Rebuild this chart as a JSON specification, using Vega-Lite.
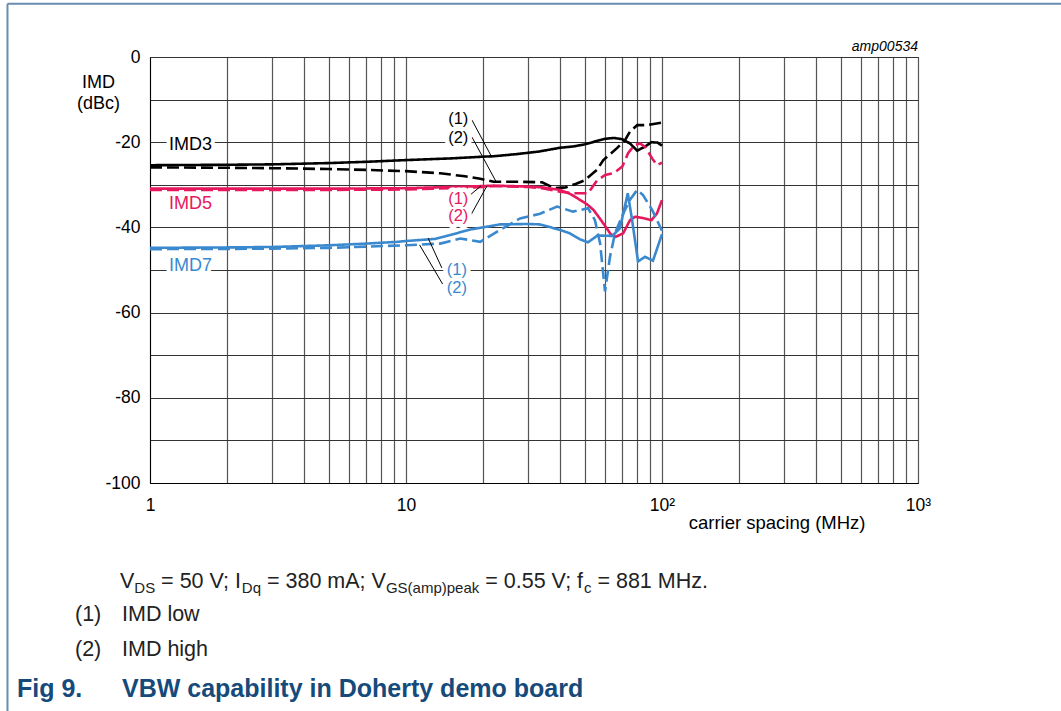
{
  "$schema": "https://vega.github.io/schema/vega-lite/v6.json",
  "width": 768,
  "height": 426,
  "autosize": {"type": "none"},
  "padding": {"left": 150, "top": 57, "right": 143, "bottom": 228},
  "background": "white",
  "config": {
    "view": {"stroke": "#333", "strokeWidth": 1},
    "font": "Liberation Sans",
    "text": {"font": "Liberation Sans"}
  },
  "datasets": {
    "curves": [
      {"s":"IMD3","k":"low","x":1,"y":-25.4},{"s":"IMD3","k":"low","x":2,"y":-25.3},{"s":"IMD3","k":"low","x":3,"y":-25.2},{"s":"IMD3","k":"low","x":5,"y":-24.9},{"s":"IMD3","k":"low","x":7,"y":-24.6},{"s":"IMD3","k":"low","x":10,"y":-24.2},{"s":"IMD3","k":"low","x":15,"y":-23.8},{"s":"IMD3","k":"low","x":20,"y":-23.4},{"s":"IMD3","k":"low","x":22,"y":-23.3},{"s":"IMD3","k":"low","x":27,"y":-22.8},{"s":"IMD3","k":"low","x":33,"y":-22.2},{"s":"IMD3","k":"low","x":40,"y":-21.3},{"s":"IMD3","k":"low","x":45,"y":-21.0},{"s":"IMD3","k":"low","x":50,"y":-20.5},{"s":"IMD3","k":"low","x":55,"y":-19.8},{"s":"IMD3","k":"low","x":60,"y":-19.2},{"s":"IMD3","k":"low","x":65,"y":-19.0},{"s":"IMD3","k":"low","x":70,"y":-19.3},{"s":"IMD3","k":"low","x":75,"y":-20.3},{"s":"IMD3","k":"low","x":80,"y":-22.0},{"s":"IMD3","k":"low","x":86,"y":-21.0},{"s":"IMD3","k":"low","x":91,"y":-20.0},{"s":"IMD3","k":"low","x":96,"y":-20.1},{"s":"IMD3","k":"low","x":100,"y":-20.8},
      {"s":"IMD3","k":"high","x":1,"y":-25.9},{"s":"IMD3","k":"high","x":2,"y":-26.0},{"s":"IMD3","k":"high","x":3,"y":-26.1},{"s":"IMD3","k":"high","x":5,"y":-26.3},{"s":"IMD3","k":"high","x":7,"y":-26.5},{"s":"IMD3","k":"high","x":10,"y":-26.8},{"s":"IMD3","k":"high","x":13.6,"y":-27.3},{"s":"IMD3","k":"high","x":17,"y":-28.0},{"s":"IMD3","k":"high","x":19.5,"y":-28.6},{"s":"IMD3","k":"high","x":22,"y":-29.3},{"s":"IMD3","k":"high","x":28,"y":-29.3},{"s":"IMD3","k":"high","x":34,"y":-29.4},{"s":"IMD3","k":"high","x":38,"y":-30.8},{"s":"IMD3","k":"high","x":42,"y":-30.6},{"s":"IMD3","k":"high","x":46,"y":-29.8},{"s":"IMD3","k":"high","x":50,"y":-28.9},{"s":"IMD3","k":"high","x":55.7,"y":-26.5},{"s":"IMD3","k":"high","x":59,"y":-24.2},{"s":"IMD3","k":"high","x":66.7,"y":-21.4},{"s":"IMD3","k":"high","x":71.6,"y":-19.6},{"s":"IMD3","k":"high","x":75,"y":-17.5},{"s":"IMD3","k":"high","x":80,"y":-16.0},{"s":"IMD3","k":"high","x":87,"y":-16.0},{"s":"IMD3","k":"high","x":100,"y":-15.4},
      {"s":"IMD5","k":"low","x":1,"y":-30.9},{"s":"IMD5","k":"low","x":5,"y":-30.9},{"s":"IMD5","k":"low","x":10,"y":-30.8},{"s":"IMD5","k":"low","x":15,"y":-30.5},{"s":"IMD5","k":"low","x":20,"y":-30.3},{"s":"IMD5","k":"low","x":22,"y":-30.2},{"s":"IMD5","k":"low","x":30,"y":-30.4},{"s":"IMD5","k":"low","x":34,"y":-30.6},{"s":"IMD5","k":"low","x":40,"y":-31.2},{"s":"IMD5","k":"low","x":44,"y":-32.2},{"s":"IMD5","k":"low","x":48,"y":-33.6},{"s":"IMD5","k":"low","x":51,"y":-34.6},{"s":"IMD5","k":"low","x":54,"y":-35.9},{"s":"IMD5","k":"low","x":57,"y":-37.8},{"s":"IMD5","k":"low","x":61,"y":-40.3},{"s":"IMD5","k":"low","x":63,"y":-41.6},{"s":"IMD5","k":"low","x":66,"y":-42.2},{"s":"IMD5","k":"low","x":70.5,"y":-41.4},{"s":"IMD5","k":"low","x":75,"y":-38.3},{"s":"IMD5","k":"low","x":78.5,"y":-37.5},{"s":"IMD5","k":"low","x":84,"y":-37.8},{"s":"IMD5","k":"low","x":91,"y":-38.3},{"s":"IMD5","k":"low","x":95.6,"y":-36.7},{"s":"IMD5","k":"low","x":100,"y":-33.6},
      {"s":"IMD5","k":"high","x":1,"y":-31.2},{"s":"IMD5","k":"high","x":5,"y":-31.2},{"s":"IMD5","k":"high","x":10,"y":-31.1},{"s":"IMD5","k":"high","x":15,"y":-30.8},{"s":"IMD5","k":"high","x":20,"y":-30.5},{"s":"IMD5","k":"high","x":22,"y":-30.3},{"s":"IMD5","k":"high","x":30,"y":-30.5},{"s":"IMD5","k":"high","x":34,"y":-30.8},{"s":"IMD5","k":"high","x":40,"y":-31.6},{"s":"IMD5","k":"high","x":45,"y":-32.0},{"s":"IMD5","k":"high","x":51.4,"y":-32.0},{"s":"IMD5","k":"high","x":55.7,"y":-29.0},{"s":"IMD5","k":"high","x":60,"y":-27.7},{"s":"IMD5","k":"high","x":65,"y":-27.2},{"s":"IMD5","k":"high","x":70,"y":-25.7},{"s":"IMD5","k":"high","x":73.7,"y":-22.6},{"s":"IMD5","k":"high","x":78,"y":-20.7},{"s":"IMD5","k":"high","x":82,"y":-20.3},{"s":"IMD5","k":"high","x":86,"y":-21.1},{"s":"IMD5","k":"high","x":91.5,"y":-23.8},{"s":"IMD5","k":"high","x":95.6,"y":-25.4},{"s":"IMD5","k":"high","x":100,"y":-24.8},
      {"s":"IMD7","k":"low","x":1,"y":-44.8},{"s":"IMD7","k":"low","x":2,"y":-44.7},{"s":"IMD7","k":"low","x":3,"y":-44.6},{"s":"IMD7","k":"low","x":5,"y":-44.2},{"s":"IMD7","k":"low","x":7,"y":-43.8},{"s":"IMD7","k":"low","x":9.2,"y":-43.4},{"s":"IMD7","k":"low","x":10,"y":-43.2},{"s":"IMD7","k":"low","x":13,"y":-42.7},{"s":"IMD7","k":"low","x":15.5,"y":-41.5},{"s":"IMD7","k":"low","x":17.8,"y":-40.5},{"s":"IMD7","k":"low","x":19.5,"y":-40.1},{"s":"IMD7","k":"low","x":23.3,"y":-39.3},{"s":"IMD7","k":"low","x":30,"y":-39.2},{"s":"IMD7","k":"low","x":33.4,"y":-39.3},{"s":"IMD7","k":"low","x":40,"y":-40.6},{"s":"IMD7","k":"low","x":43.7,"y":-41.4},{"s":"IMD7","k":"low","x":47.8,"y":-42.8},{"s":"IMD7","k":"low","x":51.4,"y":-43.5},{"s":"IMD7","k":"low","x":56,"y":-41.9},{"s":"IMD7","k":"low","x":64,"y":-42.0},{"s":"IMD7","k":"low","x":68.5,"y":-40.2},{"s":"IMD7","k":"low","x":73.5,"y":-32.0},{"s":"IMD7","k":"low","x":76.3,"y":-38.0},{"s":"IMD7","k":"low","x":80.6,"y":-48.0},{"s":"IMD7","k":"low","x":85.8,"y":-46.9},{"s":"IMD7","k":"low","x":92.2,"y":-47.8},{"s":"IMD7","k":"low","x":100,"y":-41.6},
      {"s":"IMD7","k":"high","x":1,"y":-45.1},{"s":"IMD7","k":"high","x":3,"y":-45.0},{"s":"IMD7","k":"high","x":5,"y":-44.8},{"s":"IMD7","k":"high","x":10,"y":-44.2},{"s":"IMD7","k":"high","x":13.6,"y":-43.8},{"s":"IMD7","k":"high","x":16.3,"y":-42.6},{"s":"IMD7","k":"high","x":19.5,"y":-43.4},{"s":"IMD7","k":"high","x":23.3,"y":-40.6},{"s":"IMD7","k":"high","x":27.9,"y":-37.9},{"s":"IMD7","k":"high","x":33.4,"y":-36.8},{"s":"IMD7","k":"high","x":38.9,"y":-35.1},{"s":"IMD7","k":"high","x":44.9,"y":-36.3},{"s":"IMD7","k":"high","x":51.4,"y":-35.5},{"s":"IMD7","k":"high","x":54.7,"y":-38.3},{"s":"IMD7","k":"high","x":57.3,"y":-43.7},{"s":"IMD7","k":"high","x":59.9,"y":-55.0},{"s":"IMD7","k":"high","x":62.6,"y":-47.0},{"s":"IMD7","k":"high","x":65.5,"y":-41.4},{"s":"IMD7","k":"high","x":70.5,"y":-36.8},{"s":"IMD7","k":"high","x":75,"y":-33.5},{"s":"IMD7","k":"high","x":80,"y":-31.2},{"s":"IMD7","k":"high","x":84.3,"y":-32.4},{"s":"IMD7","k":"high","x":91.5,"y":-35.9},{"s":"IMD7","k":"high","x":100,"y":-40.8}
    ],
    "names": [
      {"t":"IMD3","s":"IMD3","x":1.44,"y":-20.7},
      {"t":"IMD5","s":"IMD5","x":1.44,"y":-34.6},
      {"t":"IMD7","s":"IMD7","x":1.44,"y":-49.0}
    ],
    "refs": [
      {"t":"(1)","s":"IMD3","x":16.0,"y":-14.6},
      {"t":"(2)","s":"IMD3","x":16.0,"y":-18.9},
      {"t":"(1)","s":"IMD5","x":16.0,"y":-33.3},
      {"t":"(2)","s":"IMD5","x":16.0,"y":-37.3},
      {"t":"(1)","s":"IMD7","x":15.8,"y":-50.0},
      {"t":"(2)","s":"IMD7","x":15.8,"y":-54.2}
    ],
    "leaders": [
      {"x":18.1,"y":-14.8,"x2":21.5,"y2":-23.2},
      {"x":18.1,"y":-18.8,"x2":22.5,"y2":-29.3},
      {"x":17.8,"y":-32.4,"x2":19.6,"y2":-30.3},
      {"x":18.0,"y":-36.9,"x2":20.7,"y2":-30.3},
      {"x":13.8,"y":-49.5,"x2":12.2,"y2":-42.5},
      {"x":13.9,"y":-53.3,"x2":11.3,"y2":-44.1}
    ],
    "tag": [
      {"t":"amp00534","x":1000,"y":1.4}
    ],
    "caption": [
      {"role":"main","t":"V","x":0.7637,"y":-124.65},
      {"role":"sub","t":"DS","x":0.8683,"y":-125.82},
      {"role":"main","t":"= 50 V; I","x":1.105,"y":-124.65},
      {"role":"sub","t":"Dq","x":2.2838,"y":-125.82},
      {"role":"main","t":"= 380 mA; V","x":2.8642,"y":-124.65},
      {"role":"sub","t":"GS(amp)peak","x":8.3463,"y":-125.82},
      {"role":"main","t":"= 0.55 V; f","x":20.40,"y":-124.65},
      {"role":"sub","t":"c","x":49.54,"y":-125.82},
      {"role":"main","t":"= 881 MHz.","x":55.94,"y":-124.65},
      {"role":"main","t":"(1)","x":0.5093,"y":-132.3},
      {"role":"main","t":"IMD low","x":0.7774,"y":-132.3},
      {"role":"main","t":"(2)","x":0.5093,"y":-140.5},
      {"role":"main","t":"IMD high","x":0.7774,"y":-140.5},
      {"role":"fig","t":"Fig 9.","x":0.3022,"y":-150.2},
      {"role":"fig","t":"VBW capability in Doherty demo board","x":0.7774,"y":-150.2}
    ],
    "frame": [
      {"x":0.2775,"y":12.49,"x2":0.2775,"y2":-170},
      {"x":0.2775,"y":12.49,"x2":5000,"y2":12.49}
    ]
  },
  "layer": [
    {
      "data": {"name": "curves"},
      "mark": {"type": "line", "strokeWidth": 2.6, "clip": false},
      "encoding": {
        "x": {
          "field": "x", "type": "quantitative",
          "scale": {"type": "log", "domain": [1, 1000]},
          "axis": {
            "values": [1,2,3,4,5,6,7,8,9,10,20,30,40,50,60,70,80,90,100,200,300,400,500,600,700,800,900,1000],
            "grid": true, "gridColor": "#555", "gridWidth": 1.2, "ticks": false,
            "domainColor": "#000", "domainWidth": 1,
            "labelExpr": "datum.value == 1 ? '1' : datum.value == 10 ? '10' : datum.value == 100 ? '10²' : datum.value == 1000 ? '10³' : ''",
            "labelFontSize": 17.5, "labelPadding": 13, "labelColor": "#000",
            "labelFlush": false, "labelOverlap": false, "labelBound": false,
            "title": "carrier spacing (MHz)", "titleFontSize": 18.5, "titleFontWeight": "normal", "titleColor": "#000",
            "titleX": 715, "titleY": 39, "titleAlign": "right", "titleBaseline": "middle"
          }
        },
        "y": {
          "field": "y", "type": "quantitative",
          "scale": {"domain": [-100, 0]},
          "axis": {
            "values": [-100,-90,-80,-70,-60,-50,-40,-30,-20,-10,0],
            "grid": true, "gridColor": "#333", "gridWidth": 1, "ticks": false,
            "domainColor": "#000", "domainWidth": 1,
            "labelExpr": "datum.value % 20 == 0 ? '' + datum.value : ''",
            "labelFontSize": 17.5, "labelPadding": 10, "labelColor": "#000",
            "labelFlush": false, "labelOverlap": false, "labelBound": false,
            "title": ["IMD", "(dBc)"], "titleAngle": 0, "titleAlign": "center", "titleBaseline": "top",
            "titleX": -52, "titleY": 16, "titleFontSize": 18, "titleFontWeight": "normal", "titleColor": "#000", "titleLineHeight": 21
          }
        },
        "color": {"field": "s", "type": "nominal", "scale": {"domain": ["IMD3", "IMD5", "IMD7"], "range": ["#000000", "#e5195c", "#3a89cf"]}, "legend": null},
        "strokeDash": {"field": "k", "type": "nominal", "scale": {"domain": ["low", "high"], "range": [[1, 0], [12, 5]]}, "legend": null}
      }
    },
    {
      "data": {"name": "leaders"},
      "mark": {"type": "rule", "color": "#000", "strokeWidth": 1},
      "encoding": {
        "x": {"field": "x", "type": "quantitative", "scale": {"type": "log", "domain": [1, 1000]}},
        "y": {"field": "y", "type": "quantitative", "scale": {"domain": [-100, 0]}},
        "x2": {"field": "x2"},
        "y2": {"field": "y2"}
      }
    },
    {
      "data": {"name": "names"},
      "mark": {"type": "text", "fontSize": 18, "fill": "white", "stroke": "white", "strokeWidth": 8, "strokeJoin": "round", "align": "center", "baseline": "middle"},
      "encoding": {
        "x": {"field": "x", "type": "quantitative", "scale": {"type": "log", "domain": [1, 1000]}},
        "y": {"field": "y", "type": "quantitative", "scale": {"domain": [-100, 0]}},
        "text": {"field": "t"}
      }
    },
    {
      "data": {"name": "names"},
      "mark": {"type": "text", "fontSize": 18, "align": "center", "baseline": "middle"},
      "encoding": {
        "x": {"field": "x", "type": "quantitative", "scale": {"type": "log", "domain": [1, 1000]}},
        "y": {"field": "y", "type": "quantitative", "scale": {"domain": [-100, 0]}},
        "text": {"field": "t"},
        "color": {"field": "s", "type": "nominal", "legend": null}
      }
    },
    {
      "data": {"name": "refs"},
      "mark": {"type": "text", "fontSize": 16.5, "fill": "white", "stroke": "white", "strokeWidth": 9, "strokeJoin": "round", "align": "center", "baseline": "middle"},
      "encoding": {
        "x": {"field": "x", "type": "quantitative", "scale": {"type": "log", "domain": [1, 1000]}},
        "y": {"field": "y", "type": "quantitative", "scale": {"domain": [-100, 0]}},
        "text": {"field": "t"}
      }
    },
    {
      "data": {"name": "refs"},
      "mark": {"type": "text", "fontSize": 16.5, "align": "center", "baseline": "middle"},
      "encoding": {
        "x": {"field": "x", "type": "quantitative", "scale": {"type": "log", "domain": [1, 1000]}},
        "y": {"field": "y", "type": "quantitative", "scale": {"domain": [-100, 0]}},
        "text": {"field": "t"},
        "color": {"field": "s", "type": "nominal", "legend": null}
      }
    },
    {
      "data": {"name": "tag"},
      "mark": {"type": "text", "fontSize": 14, "fontStyle": "italic", "fill": "#000", "align": "right", "baseline": "alphabetic"},
      "encoding": {
        "x": {"field": "x", "type": "quantitative", "scale": {"type": "log", "domain": [1, 1000]}},
        "y": {"field": "y", "type": "quantitative", "scale": {"domain": [-100, 0]}},
        "text": {"field": "t"}
      }
    },
    {
      "data": {"name": "caption"},
      "transform": [{"filter": "datum.role == 'main'"}],
      "mark": {"type": "text", "fontSize": 21.5, "fill": "#222", "align": "left", "baseline": "alphabetic"},
      "encoding": {
        "x": {"field": "x", "type": "quantitative", "scale": {"type": "log", "domain": [1, 1000]}},
        "y": {"field": "y", "type": "quantitative", "scale": {"domain": [-100, 0]}},
        "text": {"field": "t"}
      }
    },
    {
      "data": {"name": "caption"},
      "transform": [{"filter": "datum.role == 'sub'"}],
      "mark": {"type": "text", "fontSize": 15, "fill": "#222", "align": "left", "baseline": "alphabetic"},
      "encoding": {
        "x": {"field": "x", "type": "quantitative", "scale": {"type": "log", "domain": [1, 1000]}},
        "y": {"field": "y", "type": "quantitative", "scale": {"domain": [-100, 0]}},
        "text": {"field": "t"}
      }
    },
    {
      "data": {"name": "caption"},
      "transform": [{"filter": "datum.role == 'fig'"}],
      "mark": {"type": "text", "fontSize": 25, "fontWeight": "bold", "fill": "#164a7a", "align": "left", "baseline": "alphabetic"},
      "encoding": {
        "x": {"field": "x", "type": "quantitative", "scale": {"type": "log", "domain": [1, 1000]}},
        "y": {"field": "y", "type": "quantitative", "scale": {"domain": [-100, 0]}},
        "text": {"field": "t"}
      }
    },
    {
      "data": {"name": "frame"},
      "mark": {"type": "rule", "color": "#6a8db0", "strokeWidth": 2},
      "encoding": {
        "x": {"field": "x", "type": "quantitative", "scale": {"type": "log", "domain": [1, 1000]}},
        "y": {"field": "y", "type": "quantitative", "scale": {"domain": [-100, 0]}},
        "x2": {"field": "x2"},
        "y2": {"field": "y2"}
      }
    }
  ]
}
